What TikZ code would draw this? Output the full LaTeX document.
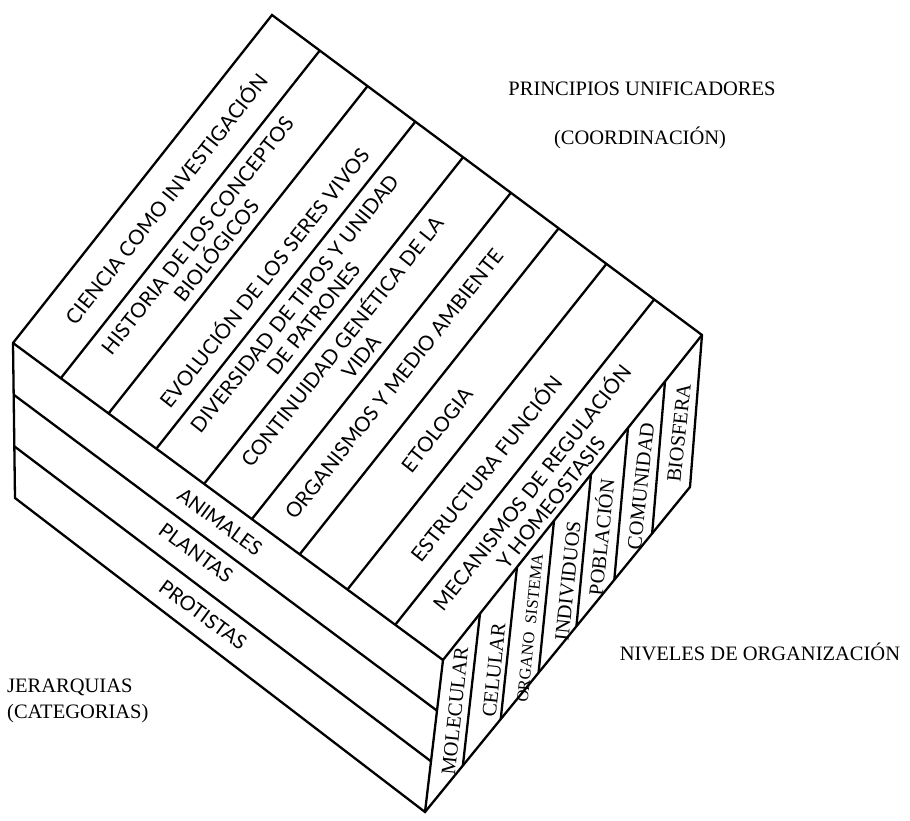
\documentclass[tikz,border=0pt]{standalone}
\usepackage{fontspec}
\setmainfont{Liberation Serif}
\newfontfamily\optfont{Lato}
\usetikzlibrary{calc}
\begin{document}
\begin{tikzpicture}[x=1pt,y=-1pt,
  edge/.style={line width=2.3pt, line join=miter},
  toplbl/.style={font=\optfont\fontsize{20.5}{24}\selectfont, align=center, rotate=51.7, inner sep=0pt},
  bandlbl/.style={font=\optfont\fontsize{20}{24}\selectfont, rotate=-36.4, inner sep=0pt},
  sidelbl/.style={font=\fontsize{20.5}{22}\selectfont, rotate=84, inner sep=0pt},
  outlbl/.style={font=\fontsize{20.5}{26}\selectfont, inner sep=0pt}]
\useasboundingbox (0,0) rectangle (910,821);
% cube corners
\coordinate (T) at (272,15);
\coordinate (R) at (702,335);
\coordinate (L) at (13,343);
\coordinate (F) at (443,660);
\coordinate (Lb) at (15,498);
\coordinate (Fb) at (425,812);
\coordinate (Rb) at (690,487);
% outline and main edges
\draw[edge] (L) -- (T) -- (R) -- (Rb) -- (Fb) -- (Lb) -- cycle;
\draw[edge] (L) -- (F) -- (R);
\draw[edge] (F) -- (Fb);
% top face strips (principios unificadores)
\foreach \k in {1,...,8}{
  \draw[edge] ($(T)!\k/9!(R)$) -- ($(L)!\k/9!(F)$);
}
% left face bands (jerarquias)
\foreach \k in {1,2}{
  \draw[edge] ($(L)!\k/3!(Lb)$) -- ($(F)!\k/3!(Fb)$);
}
% right face strips (niveles)
\foreach \k in {1,...,6}{
  \draw[edge] ($(F)!\k/7!(R)$) -- ($(Fb)!\k/7!(Rb)$);
}
% top face labels
\node[toplbl] (p1) at (165,198) {CIENCIA COMO INVESTIGACIÓN};
\node[toplbl] (p2) at (207,243) {HISTORIA DE LOS CONCEPTOS\\BIOLÓGICOS};
\node[toplbl] (p3) at (263,277) {EVOLUCIÓN DE LOS SERES VIVOS};
\node[toplbl] (p4) at (304,311) {DIVERSIDAD DE TIPOS Y UNIDAD\\DE PATRONES};
\node[toplbl] (p5) at (350,348) {CONTINUIDAD GENÉTICA DE LA\\VIDA};
\node[toplbl] (p6) at (394,384) {ORGANISMOS Y MEDIO AMBIENTE};
\node[toplbl] (p7) at (437,430) {ETOLOGIA};
\node[toplbl] (p8) at (485,468) {ESTRUCTURA FUNCIÓN};
\node[toplbl] (p9) at (540,494) {MECANISMOS DE REGULACIÓN\\Y HOMEOSTASIS};
% left face labels
\node[bandlbl] (j1) at (220,522) {ANIMALES};
\node[bandlbl] (j2) at (196,553) {PLANTAS};
\node[bandlbl] (j3) at (203,615) {PROTISTAS};
% right face labels
\node[sidelbl] (n1) at (455,711) {MOLECULAR};
\node[sidelbl] (n2) at (494,670) {CELULAR};
\node[sidelbl, font=\fontsize{16.5}{18}\selectfont] (n3) at (530,628) {ORGANO\enspace SISTEMA};
\node[sidelbl] (n4) at (568,581) {INDIVIDUOS};
\node[sidelbl] (n5) at (600,537) {POBLACIÓN};
\node[sidelbl] (n6) at (641,486) {COMUNIDAD};
\node[sidelbl] (n7) at (679,433) {BIOSFERA};
% outer labels
\node[outlbl] (pu) at (642,89) {PRINCIPIOS UNIFICADORES};
\node[outlbl] (co) at (640,138) {(COORDINACIÓN)};
\node[outlbl] (ni) at (760,652) {NIVELES DE ORGANIZACIÓN};
\node[outlbl, anchor=north west, align=left] (je) at (7,679) {JERARQUIAS\\(CATEGORIAS)};
\end{tikzpicture}
\end{document}
